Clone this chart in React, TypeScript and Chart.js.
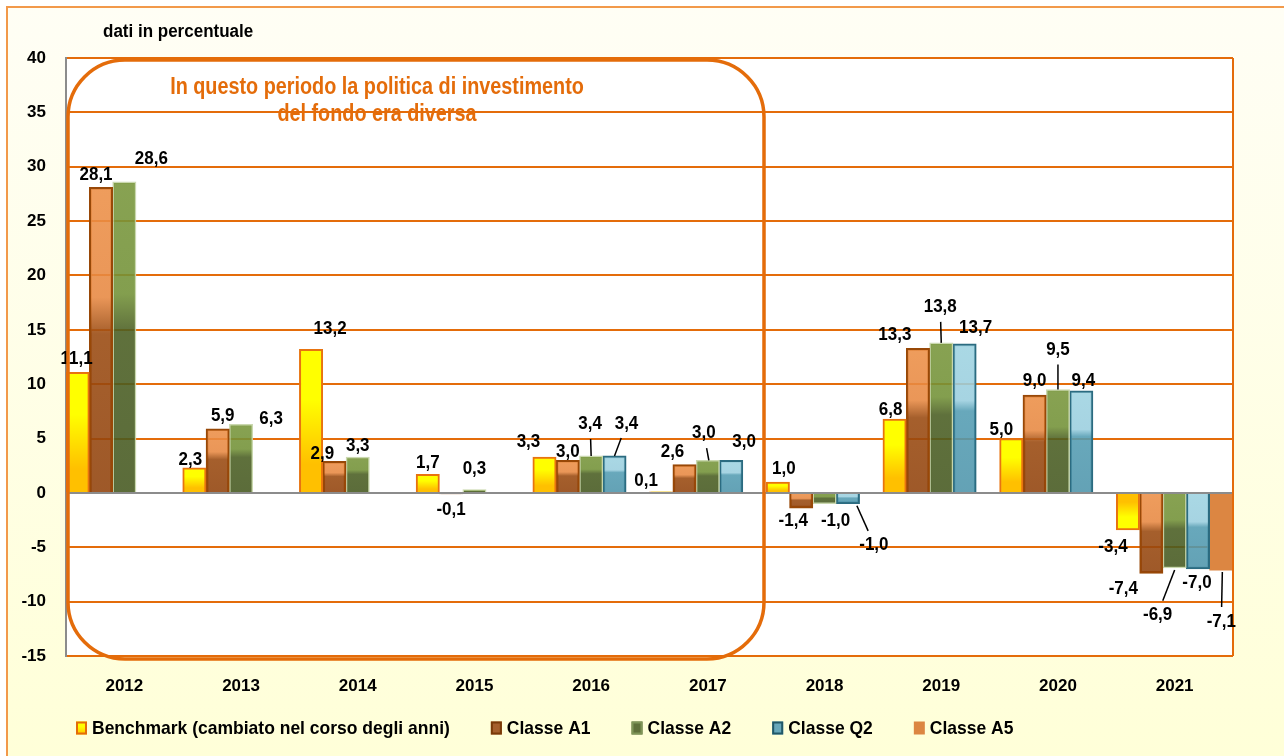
import React, { useEffect, useRef } from 'react';
import { Chart, registerables } from 'chart.js';

Chart.register(...registerables);

// ---------------- DATA ----------------
const categories = ['2012', '2013', '2014', '2015', '2016', '2017', '2018', '2019', '2020', '2021'];
const seriesNames = ['Benchmark (cambiato nel corso degli anni)', 'Classe A1', 'Classe A2', 'Classe Q2', 'Classe A5'];
const benchmark = [11.1, 2.3, 13.2, 1.7, 3.3, 0.1, 1.0, 6.8, 5.0, -3.4];
const classeA1 = [28.1, 5.9, 2.9, -0.1, 3.0, 2.6, -1.4, 13.3, 9.0, -7.4];
const classeA2 = [28.6, 6.3, 3.3, 0.3, 3.4, 3.0, -1.0, 13.8, 9.5, -6.9];
const classeQ2 = [null, null, null, null, 3.4, 3.0, -1.0, 13.7, 9.4, -7.0];
const classeA5 = [null, null, null, null, null, null, null, null, null, -7.1];
const yMin = -15;
const yMax = 40;
const yStep = 5;
const yUnitText = 'dati in percentuale';
const noteLines = ['In questo periodo la politica di investimento', 'del fondo era diversa'];

// Label placement (pixel nudges from bar tip, optional leader end x-nudge)
const LABEL_LAYOUT: (number[] | null)[][] = [
  [[-1, -13], [-4, -8], [19, -21], [0, -12], [-16, -15], [-15, -11], [6, -13], [-4, -9], [-10, -9], [-15, 17]],
  [[-5, -13], [5, -13], [-12, -8], [0, 16], [0, -8], [-12, -13], [-8, 13], [-23, -13], [0, -14], [-28, 15]],
  [[27, -23], [30, -6], [0, -11], [0, -21], [-1, -32, 0], [-4, -27, 1], [11, 17], [-1, -36, 0], [0, -40, 0], [-17, 47, 0]],
  [null, null, null, null, [12, -32, 0], [13, -18], [26, 41, 9], [11, -16], [2, -10], [-1, 14]],
  [null, null, null, null, null, null, null, null, null, [0, 52, 1]],
];

// ---------------- STYLE ----------------
const FONT = '"Liberation Sans", Arial, sans-serif';
const ORANGE = '#E46C0A';
const GRAY = '#8C8C8C';

function onWhite(rgb: number[], a: number): string {
  const c = rgb.map((d) => Math.max(0, Math.min(255, Math.round((d - (1 - a) * 255) / a))));
  return `rgba(${c[0]},${c[1]},${c[2]},${a})`;
}

type Stop = [number, string];
const A = 0.88;
const STOPS: Record<string, { pos: Stop[]; neg: Stop[]; solid: string }> = {
  bench: {
    pos: [[0, '#FFFF00'], [0.35, '#FFFF00'], [0.8, '#FFC000'], [1, '#FFC000']],
    neg: [[0, '#FFC000'], [0.25, '#FFC000'], [0.65, '#FFFF00'], [1, '#FFFF00']],
    solid: '#FFD700',
  },
  a1: {
    pos: [[0, onWhite([238, 156, 92], A)], [0.36, onWhite([234, 150, 88], A)], [0.48, onWhite([165, 95, 44], A)], [1, onWhite([158, 89, 40], A)]],
    neg: [[0, onWhite([238, 156, 92], A)], [0.36, onWhite([234, 150, 88], A)], [0.48, onWhite([165, 95, 44], A)], [1, onWhite([158, 89, 40], A)]],
    solid: '#A55F2C',
  },
  a2: {
    pos: [[0, onWhite([135, 162, 82], A)], [0.36, onWhite([131, 158, 78], A)], [0.48, onWhite([95, 112, 60], A)], [1, onWhite([91, 108, 58], A)]],
    neg: [[0, onWhite([135, 162, 82], A)], [0.36, onWhite([131, 158, 78], A)], [0.48, onWhite([95, 112, 60], A)], [1, onWhite([91, 108, 58], A)]],
    solid: '#5F703B',
  },
  q2: {
    pos: [[0, onWhite([170, 216, 229], A)], [0.38, onWhite([166, 212, 226], A)], [0.45, onWhite([104, 168, 187], A)], [1, onWhite([99, 162, 181], A)]],
    neg: [[0, onWhite([170, 216, 229], A)], [0.38, onWhite([166, 212, 226], A)], [0.45, onWhite([104, 168, 187], A)], [1, onWhite([99, 162, 181], A)]],
    solid: '#66A6B9',
  },
};

function fillFor(kind: string) {
  return (ctx: any) => {
    const s = STOPS[kind];
    const chart = ctx.chart;
    const v = ctx.raw;
    const ys = chart.scales && chart.scales.y;
    if (v == null || typeof v !== 'number' || !ys || !chart.chartArea) return s.solid;
    const p0 = ys.getPixelForValue(0);
    const p1 = ys.getPixelForValue(v);
    const top = Math.min(p0, p1);
    const bot = Math.max(p0, p1);
    if (bot - top < 1) return v >= 0 ? s.pos[0][1] : s.neg[0][1];
    const g = chart.ctx.createLinearGradient(0, top, 0, bot);
    (v >= 0 ? s.pos : s.neg).forEach(([o, c]) => g.addColorStop(o, c));
    return g;
  };
}

const fmt = (v: number) => v.toFixed(1).replace('.', ',');

// draw text slightly stretched vertically (the reference glyphs are tall)
function tallText(ctx: CanvasRenderingContext2D, text: string, x: number, y: number, sy = 1.1) {
  ctx.save();
  ctx.translate(x, y);
  ctx.scale(1, sy);
  ctx.fillText(text, 0, 0);
  ctx.restore();
}

const decorPlugin = {
  id: 'decor',
  beforeDraw(chart: any) {
    const { ctx, width, height, chartArea } = chart;
    ctx.save();
    ctx.fillStyle = '#FFFFFF';
    ctx.fillRect(0, 0, width, height);
    const bg = ctx.createLinearGradient(0, 7, 0, height);
    bg.addColorStop(0, '#FFFEF5');
    bg.addColorStop(1, '#FFFFD8');
    ctx.fillStyle = bg;
    ctx.fillRect(7, 7, width - 7, height - 7);
    ctx.strokeStyle = '#F2994A';
    ctx.lineWidth = 2;
    ctx.beginPath();
    ctx.moveTo(7, height);
    ctx.lineTo(7, 7);
    ctx.lineTo(width, 7);
    ctx.stroke();
    ctx.fillStyle = '#FFFFFF';
    ctx.fillRect(chartArea.left, chartArea.top, chartArea.right - chartArea.left, chartArea.bottom - chartArea.top);
    ctx.restore();
  },
  afterDatasetsDraw(chart: any) {
    const { ctx, chartArea } = chart;
    const ys = chart.scales.y;
    ctx.save();
    const z = ys.getPixelForValue(0);
    ctx.strokeStyle = GRAY;
    ctx.lineWidth = 2;
    ctx.beginPath();
    ctx.moveTo(chartArea.left, z);
    ctx.lineTo(chartArea.right, z);
    ctx.stroke();
    ctx.strokeStyle = ORANGE;
    ctx.beginPath();
    ctx.moveTo(chartArea.right, chartArea.top);
    ctx.lineTo(chartArea.right, chartArea.bottom);
    ctx.stroke();

    ctx.font = `bold 17px ${FONT}`;
    ctx.fillStyle = '#000000';
    ctx.textAlign = 'center';
    ctx.textBaseline = 'middle';
    chart.data.datasets.forEach((ds: any, di: number) => {
      const meta = chart.getDatasetMeta(di);
      ds.data.forEach((v: number | null, i: number) => {
        if (v == null) return;
        const el = meta.data[i];
        if (!el) return;
        const lay = (LABEL_LAYOUT[di] && LABEL_LAYOUT[di][i]) || [0, v >= 0 ? -12 : 12];
        const lx = el.x + lay[0];
        const ly = el.y + lay[1];
        if (lay.length > 2) {
          const ex = el.x + lay[2];
          const ey = el.y;
          const dx = ex - lx;
          const dy = ey - ly;
          const len = Math.hypot(dx, dy) || 1;
          ctx.strokeStyle = '#000000';
          ctx.lineWidth = 1.5;
          ctx.beginPath();
          ctx.moveTo(lx + (dx / len) * 15, ly + (dy / len) * 15);
          ctx.lineTo(ex, ey + (v >= 0 ? 0 : 2));
          ctx.stroke();
        }
        ctx.fillStyle = '#000000';
        tallText(ctx, fmt(v), lx, ly);
      });
    });
    ctx.restore();
  },
  afterDraw(chart: any) {
    const { ctx } = chart;
    ctx.save();
    ctx.font = `bold 17px ${FONT}`;
    ctx.fillStyle = '#000000';
    ctx.textAlign = 'left';
    ctx.textBaseline = 'alphabetic';
    tallText(ctx, yUnitText, 103, 37);

    const x0 = 68, y0 = 60, x1 = 764, y1 = 659, r = 57;
    ctx.strokeStyle = ORANGE;
    ctx.lineWidth = 3.5;
    ctx.beginPath();
    ctx.moveTo(x0 + r, y0);
    ctx.lineTo(x1 - r, y0);
    ctx.arcTo(x1, y0, x1, y0 + r, r);
    ctx.lineTo(x1, y1 - r);
    ctx.arcTo(x1, y1, x1 - r, y1, r);
    ctx.lineTo(x0 + r, y1);
    ctx.arcTo(x0, y1, x0, y1 - r, r);
    ctx.lineTo(x0, y0 + r);
    ctx.arcTo(x0, y0, x0 + r, y0, r);
    ctx.closePath();
    ctx.stroke();

    ctx.fillStyle = ORANGE;
    ctx.font = `bold 22px ${FONT}`;
    ctx.textAlign = 'center';
    const cx = 377;
    [94, 121].forEach((by, k) => {
      ctx.save();
      ctx.translate(cx, by);
      ctx.scale(0.9, 1.05);
      ctx.fillText(noteLines[k], 0, 0);
      ctx.restore();
    });

    ctx.font = `bold 17.5px ${FONT}`;
    ctx.textAlign = 'left';
    ctx.textBaseline = 'middle';
    const legendY = 728;
    let x = 76;
    const sw = 11, sh = 13;
    const legStyles = [
      { fill: null, stroke: '#E46C0A', kind: 'bench' },
      { fill: '#A55F2C', stroke: '#7A3A08' },
      { fill: '#5F703B', stroke: '#7F9558' },
      { fill: '#67A7BA', stroke: '#215868' },
      { fill: '#DC8642', stroke: null },
    ];
    seriesNames.forEach((name, k) => {
      const st = legStyles[k];
      const top = legendY - sh / 2;
      if (st.kind === 'bench') {
        const g = ctx.createLinearGradient(0, top, 0, top + sh);
        g.addColorStop(0, '#FFFF00');
        g.addColorStop(0.4, '#FFFF00');
        g.addColorStop(1, '#FFC000');
        ctx.fillStyle = g;
      } else {
        ctx.fillStyle = st.fill as string;
      }
      ctx.fillRect(x, top, sw, sh);
      if (st.stroke) {
        ctx.strokeStyle = st.stroke;
        ctx.lineWidth = 2;
        ctx.strokeRect(x + 1, top + 1, sw - 2, sh - 2);
      }
      ctx.fillStyle = '#000000';
      tallText(ctx, name, x + 16, legendY + 1);
      x += 16 + ctx.measureText(name).width + 41;
    });
    ctx.restore();
  },
};

export default function App() {
  const canvasRef = useRef<HTMLCanvasElement | null>(null);

  useEffect(() => {
    document.body.style.margin = '0';
    const canvas = canvasRef.current;
    if (!canvas) return;
    const chart = new Chart(canvas, {
      type: 'bar',
      data: {
        labels: categories,
        datasets: [
          {
            label: seriesNames[0],
            data: benchmark,
            backgroundColor: fillFor('bench'),
            borderColor: '#E8730F',
            borderWidth: 2,
            categoryPercentage: 1,
            barPercentage: 1,
          },
          {
            label: seriesNames[1],
            data: classeA1,
            backgroundColor: fillFor('a1'),
            borderColor: '#984807',
            borderWidth: 2,
            categoryPercentage: 1,
            barPercentage: 1,
          },
          {
            label: seriesNames[2],
            data: classeA2,
            backgroundColor: fillFor('a2'),
            borderColor: 'rgba(196,212,166,0.9)',
            borderWidth: 1.5,
            categoryPercentage: 1,
            barPercentage: 1,
          },
          {
            label: seriesNames[3],
            data: classeQ2,
            backgroundColor: fillFor('q2'),
            borderColor: '#2B6B80',
            borderWidth: 2,
            categoryPercentage: 1,
            barPercentage: 1,
          },
          {
            label: seriesNames[4],
            data: classeA5,
            backgroundColor: '#DC8642',
            borderWidth: 0,
            categoryPercentage: 1,
            barPercentage: 1,
          },
        ] as any,
      },
      options: {
        animation: false,
        responsive: false,
        devicePixelRatio: 1,
        events: [],
        layout: { padding: { top: 58, right: 51, left: 0, bottom: 0 } },
        plugins: {
          legend: { display: false },
          tooltip: { enabled: false },
          title: { display: false },
        },
        scales: {
          x: {
            type: 'category',
            offset: true,
            grid: { display: false, drawTicks: false },
            border: { display: false },
            ticks: {
              color: '#000000',
              font: { family: FONT, size: 17, weight: 'bold' },
              padding: 20,
              maxRotation: 0,
              autoSkip: false,
            },
            afterFit: (scale: any) => {
              scale.height = 100;
            },
          },
          y: {
            min: yMin,
            max: yMax,
            ticks: {
              stepSize: yStep,
              color: '#000000',
              font: { family: FONT, size: 17, weight: 'bold' },
              padding: 20,
            },
            grid: {
              drawTicks: false,
              lineWidth: 2,
              color: (c: any) => (c.tick && c.tick.value === 0 ? GRAY : ORANGE),
            },
            border: { display: true, color: GRAY, width: 2 },
            afterFit: (scale: any) => {
              scale.width = 66;
            },
          },
        },
      } as any,
      plugins: [decorPlugin],
    });
    return () => chart.destroy();
  }, []);

  return (
    <div style={{ width: 1284, height: 756 }}>
      <canvas ref={canvasRef} width={1284} height={756} style={{ display: 'block' }} />
    </div>
  );
}
